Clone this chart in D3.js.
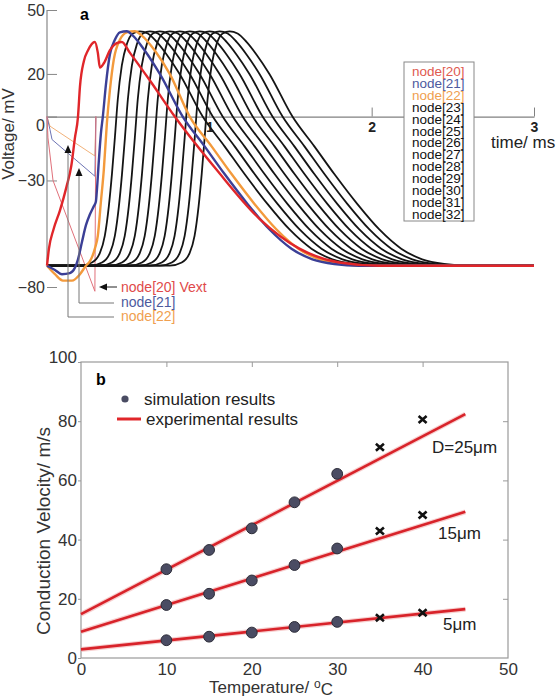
<!DOCTYPE html>
<html>
<head>
<meta charset="utf-8">
<script src="https://cdn.jsdelivr.net/npm/d3@7"></script>
<style>
  body { margin: 0; background: #fff; }
  svg { font-family: "Liberation Sans", Arial, sans-serif; }
</style>
</head>
<body>
<svg id="chart" width="560" height="700"></svg>
<script>
// ---- panel a: membrane voltage, [time ms, mV] ----
var node20 = [[0, -70], [0.012, -62], [0.040, -53], [0.080, -44], [0.120, -33], [0.150, -23],
  [0.172, -10], [0.191, 0], [0.203, 14], [0.227, 26], [0.252, 31], [0.295, 35], [0.313, 30],
  [0.326, 23], [0.350, 25], [0.387, 31], [0.430, 34.5], [0.461, 35], [0.510, 30], [0.633, 17],
  [0.787, 0], [1.045, -25], [1.309, -48], [1.555, -62], [1.801, -68.5], [2.047, -70], [3, -70]];
var node21 = [[0, -70], [0.049, -72], [0.092, -74], [0.141, -73.5], [0.172, -71], [0.191, -67],
  [0.215, -59], [0.240, -51], [0.264, -46], [0.289, -42], [0.301, -40], [0.307, -35], [0.320, -20],
  [0.332, -8], [0.344, 0], [0.363, 15], [0.387, 29], [0.418, 36], [0.449, 39.5], [0.492, 40],
  [0.529, 38], [0.602, 31], [0.695, 20], [0.836, 0], [0.971, -14], [1.094, -27], [1.235, -41],
  [1.371, -53], [1.506, -62], [1.635, -67], [1.770, -69.2], [1.924, -70], [3, -70]];
var node22 = [[0, -70], [0.049, -74], [0.098, -77], [0.154, -77], [0.203, -74], [0.240, -70],
  [0.264, -68], [0.295, -62], [0.313, -56], [0.332, -40], [0.350, -25], [0.369, -3], [0.387, 12],
  [0.412, 27], [0.449, 36], [0.492, 39.5], [0.541, 40], [0.584, 38], [0.664, 31], [0.756, 20],
  [0.879, 0], [1.014, -14], [1.137, -27], [1.278, -41], [1.414, -53], [1.549, -62], [1.678, -67],
  [1.813, -69.2], [1.967, -70], [3, -70]];
// node[23] trace; the later nodes repeat it after their delay
var blackShape = [[0, -70], [0.203, -70], [0.277, -68.5], [0.326, -64], [0.356, -56], [0.381, -42],
  [0.400, -27], [0.418, -10], [0.436, 8], [0.461, 24], [0.492, 34], [0.529, 39], [0.572, 40],
  [0.621, 39], [0.676, 35], [0.738, 29], [0.817, 20], [0.959, 0], [1.094, -14], [1.217, -27],
  [1.358, -41], [1.494, -53], [1.629, -62], [1.758, -67], [1.893, -69.2], [2.047, -70], [2.3, -70]];
var blackNames = ["node[23]", "node[24]", "node[25]", "node[26]", "node[27]",
  "node[28]", "node[29]", "node[30]", "node[31]", "node[32]"];
var blackDelay = [0, 0.062, 0.123, 0.185, 0.246, 0.308, 0.369, 0.430, 0.492, 0.553];
// extracellular traces (thin)
var vext20 = [[0, 0], [0.006, -10], [0.037, -30], [0.295, -82], [0.301, 0]];
var vext21 = [[0, 0], [0.018, -6], [0.031, -10.8], [0.295, -28], [0.301, 0]];
var vext22 = [[0, 0], [0.018, -4.5], [0.295, -18.5], [0.301, 0]];
var voltTicks = [50, 20, 0, -30, -80];
var timeTicks = [1, 2, 3];

// ---- panel b: conduction velocity (m/s) vs temperature ----
var simTemps = [10, 15, 20, 25, 30];
var expTemps = [35, 40];
var sim25 = [30.0, 36.5, 43.8, 52.6, 62.2];
var sim15 = [17.9, 21.7, 26.2, 31.4, 37.0];
var sim5 = [6.0, 7.2, 8.6, 10.5, 12.2];
var exp25 = [71.2, 80.6];
var exp15 = [42.9, 48.3];
var exp5 = [13.6, 15.3];
var fit25 = [[0, 14.8], [45, 82.4]];
var fit15 = [[0, 8.9], [45, 49.4]];
var fit5 = [[0, 2.9], [45, 16.5]];
var diamLabels = ["D=25\u03bcm", "15\u03bcm", "5\u03bcm"];
var tempTicks = [0, 10, 20, 30, 40, 50];
var velTicks = [0, 20, 40, 60, 80, 100];

var RED = "#e0262a", BLUE = "#3b3f96", ORANGE = "#f39a3c", BLACK = "#151515";

var svg = d3.select("#chart");

// ================= panel a =================
var xA = d3.scaleLinear().domain([0, 3]).range([47, 534]);
var yA = d3.scaleLinear().domain([-80, 50]).range([287, 10]);
var gA = svg.append("g").attr("id", "panelA");

gA.append("text").attr("x", 80).attr("y", 20)
  .style("font-weight", "bold").style("font-size", "16px").text("a");

// y axis: ticks inside, labels outside
var yAxisA = d3.axisLeft(yA).tickValues(voltTicks)
  .tickSizeInner(-10).tickSizeOuter(0).tickPadding(2);
var gy = gA.append("g").attr("transform", "translate(" + xA(0) + ",0)").call(yAxisA);
gy.select(".domain").remove();
gy.selectAll("line").attr("stroke", "#888");
gy.selectAll("text").style("font-size", "16px").attr("fill", "#333")
  .attr("dy", function(d) { return d === 0 ? "0.85em" : "0.32em"; });
gA.append("line")
  .attr("x1", xA(0)).attr("x2", xA(0))
  .attr("y1", yA(50)).attr("y2", yA(-70))
  .attr("stroke", "#888").attr("stroke-width", 1.2);

gA.append("text")
  .attr("transform", "translate(14," + 134 + ") rotate(-90)")
  .attr("text-anchor", "middle").style("font-size", "17px").attr("fill", "#333")
  .text("Voltage/ mV");

// x axis labels first so the traces draw over "1"
var xAxisA = d3.axisBottom(xA).tickValues(timeTicks)
  .tickSizeInner(-9).tickSizeOuter(0).tickPadding(6)
  .tickFormat(d3.format("d"));
var gx = gA.append("g").attr("transform", "translate(0," + yA(0) + ")").call(xAxisA);
gx.select(".domain").attr("stroke", "#808080").attr("stroke-width", 1.3);
gx.selectAll("line").attr("stroke", "#808080");
gx.selectAll("text").style("font-size", "14px").style("font-weight", "bold").attr("fill", "#222");

gA.append("text").attr("x", 491).attr("y", 148)
  .style("font-size", "17px").attr("fill", "#222").text("time/ ms");

var lineA = d3.line()
  .x(function(d) { return xA(d[0]); })
  .y(function(d) { return yA(d[1]); })
  .curve(d3.curveMonotoneX);
var thinA = d3.line()
  .x(function(d) { return xA(d[0]); })
  .y(function(d) { return yA(d[1]); });

// thin extracellular traces
[[vext22, "#f2b27a"], [vext21, "#6d74b4"], [vext20, "#e0707a"]].forEach(function(v) {
  gA.append("path").datum(v[0])
    .attr("d", thinA).attr("fill", "none")
    .attr("stroke", v[1]).attr("stroke-width", 1);
});

// black traces node[23..32]
var blackData = blackDelay.map(function(delay) {
  var pts = [[0, -70]];
  blackShape.forEach(function(p) {
    if (p[0] + delay < 3) pts.push([p[0] + delay, p[1]]);
  });
  pts.push([3, -70]);
  return pts;
});
gA.append("g").selectAll("path")
  .data(blackData.slice().reverse())
  .enter().append("path")
    .attr("d", lineA).attr("fill", "none")
    .attr("stroke", BLACK).attr("stroke-width", 1.8);

[[node22, ORANGE], [node21, BLUE], [node20, RED]].forEach(function(v) {
  gA.append("path").datum(v[0])
    .attr("d", lineA).attr("fill", "none")
    .attr("stroke", v[1]).attr("stroke-width", 2.4);
});

// legend box
var legendNames = ["node[20]", "node[21]", "node[22]"].concat(blackNames);
var legendColors = ["#e05a50", "#4d5a9e", "#f0a050"].concat(blackNames.map(function() { return "#111"; }));
gA.append("rect").attr("x", 404).attr("y", 62).attr("width", 70).attr("height", 159)
  .attr("fill", "#fff").attr("stroke", "#888").attr("stroke-width", 1);
gA.append("g").selectAll("text")
  .data(legendNames)
  .enter().append("text")
    .attr("x", 412)
    .attr("y", function(d, i) { return 71 + i * 11.93; })
    .attr("dy", "0.36em")
    .style("font-size", "13.5px")
    .attr("fill", function(d, i) { return legendColors[i]; })
    .text(function(d) { return d; });

// annotations for the extracellular traces
var ann = gA.append("g").attr("stroke", "#777").attr("stroke-width", 1).attr("fill", "none");
ann.append("path").attr("d", "M79,175V303H114");
ann.append("path").attr("d", "M68,152V317H114");
ann.append("path").attr("d", "M117,287H104").attr("stroke", "#222");
gA.append("path").attr("d", "M79,168l-3.5,8h7z").attr("fill", "#111");
gA.append("path").attr("d", "M68,145l-3.5,8h7z").attr("fill", "#111");
gA.append("path").attr("d", "M99,287l8,-3.5v7z").attr("fill", "#111");
[["node[20] Vext", "#e04a4a", 292], ["node[21]", "#4d5a9e", 307], ["node[22]", "#f0a050", 321]]
  .forEach(function(t) {
    gA.append("text").attr("x", 121).attr("y", t[2])
      .style("font-size", "14px").attr("fill", t[1]).text(t[0]);
  });

// ================= panel b =================
var xB = d3.scaleLinear().domain([0, 50]).range([81, 508]);
var yB = d3.scaleLinear().domain([0, 100]).range([658, 362]);
var gB = svg.append("g").attr("id", "panelB");

gB.append("rect").attr("x", xB(0)).attr("y", yB(100))
  .attr("width", xB(50) - xB(0)).attr("height", yB(0) - yB(100))
  .attr("fill", "none").attr("stroke", "#9a9a9a").attr("stroke-width", 1.2);

var leftAx = gB.append("g").attr("transform", "translate(" + xB(0) + ",0)")
  .call(d3.axisLeft(yB).tickValues(velTicks).tickSize(3).tickPadding(1));
leftAx.select(".domain").remove();
leftAx.selectAll("line").attr("stroke", "#9a9a9a");
leftAx.selectAll("text").style("font-size", "17px").attr("fill", "#333")
  .attr("dy", function(d) { return d === 100 ? "0.05em" : "0.32em"; });

var bottomAx = gB.append("g").attr("transform", "translate(0," + yB(0) + ")")
  .call(d3.axisBottom(xB).tickValues(tempTicks).tickSize(0).tickPadding(5));
bottomAx.select(".domain").remove();
bottomAx.selectAll("text").style("font-size", "17px").attr("fill", "#333");

var topAx = gB.append("g").attr("transform", "translate(0," + yB(100) + ")")
  .call(d3.axisTop(xB).tickValues(tempTicks.slice(1, 5)).tickSize(-5).tickFormat(""));
topAx.select(".domain").remove();
topAx.selectAll("line").attr("stroke", "#9a9a9a");
var rightAx = gB.append("g").attr("transform", "translate(" + xB(50) + ",0)")
  .call(d3.axisRight(yB).tickValues(velTicks.slice(1, 5)).tickSize(-5).tickFormat(""));
rightAx.select(".domain").remove();
rightAx.selectAll("line").attr("stroke", "#9a9a9a");

gB.append("text")
  .attr("transform", "translate(50,531) rotate(-90)")
  .attr("text-anchor", "middle").style("font-size", "19px").attr("fill", "#333")
  .text("Conduction Velocity/ m/s");
var xl = gB.append("text").attr("x", 271).attr("y", 693)
  .attr("text-anchor", "middle").style("font-size", "17px").attr("fill", "#333");
xl.append("tspan").text("Temperature/ ");
xl.append("tspan").attr("dy", "-0.45em").style("font-size", "12px").text("o");
xl.append("tspan").attr("dy", "0.45em").text("C");

gB.append("text").attr("x", 96).attr("y", 385)
  .style("font-weight", "bold").style("font-size", "16px").text("b");

// legend
gB.append("circle").attr("cx", 125).attr("cy", 399).attr("r", 3.6).attr("fill", "#4a4c63");
gB.append("text").attr("x", 144).attr("y", 405).style("font-size", "17px").attr("fill", "#222")
  .text("simulation results");
gB.append("line").attr("x1", 117).attr("x2", 141).attr("y1", 419).attr("y2", 419)
  .attr("stroke", RED).attr("stroke-width", 3);
gB.append("text").attr("x", 146).attr("y", 425).style("font-size", "17px").attr("fill", "#222")
  .text("experimental results");

var lineB = d3.line()
  .x(function(d) { return xB(d[0]); })
  .y(function(d) { return yB(d[1]); });

var groups = [
  { fit: fit25, sim: sim25, exp: exp25, label: diamLabels[0] },
  { fit: fit15, sim: sim15, exp: exp15, label: diamLabels[1] },
  { fit: fit5, sim: sim5, exp: exp5, label: diamLabels[2] }
];
var labelPos = [[432, 453], [438, 539], [443, 630]];

groups.forEach(function(g, gi) {
  gB.append("path").datum(g.fit).attr("d", lineB).attr("fill", "none")
    .attr("stroke", "#f0a0a0").attr("stroke-width", 5).attr("opacity", 0.5);
  gB.append("path").datum(g.fit).attr("d", lineB).attr("fill", "none")
    .attr("stroke", "#d8232a").attr("stroke-width", 2.6);
  gB.append("g").selectAll("circle")
    .data(g.sim)
    .enter().append("circle")
      .attr("cx", function(d, i) { return xB(simTemps[i]); })
      .attr("cy", function(d) { return yB(d); })
      .attr("r", 5.4)
      .attr("fill", "#4a4c63").attr("stroke", "#2c2c38").attr("stroke-width", 1);
  gB.append("g").selectAll("path")
    .data(g.exp)
    .enter().append("path")
      .attr("transform", function(d, i) {
        return "translate(" + xB(expTemps[i]) + "," + yB(d) + ")";
      })
      .attr("d", "M-4,-3.5L4,3.5M-4,3.5L4,-3.5")
      .attr("stroke", "#111").attr("stroke-width", 2.6);
  gB.append("text").attr("x", labelPos[gi][0]).attr("y", labelPos[gi][1])
    .style("font-size", "17px").attr("fill", "#222").text(g.label);
});
</script>
</body>
</html>
